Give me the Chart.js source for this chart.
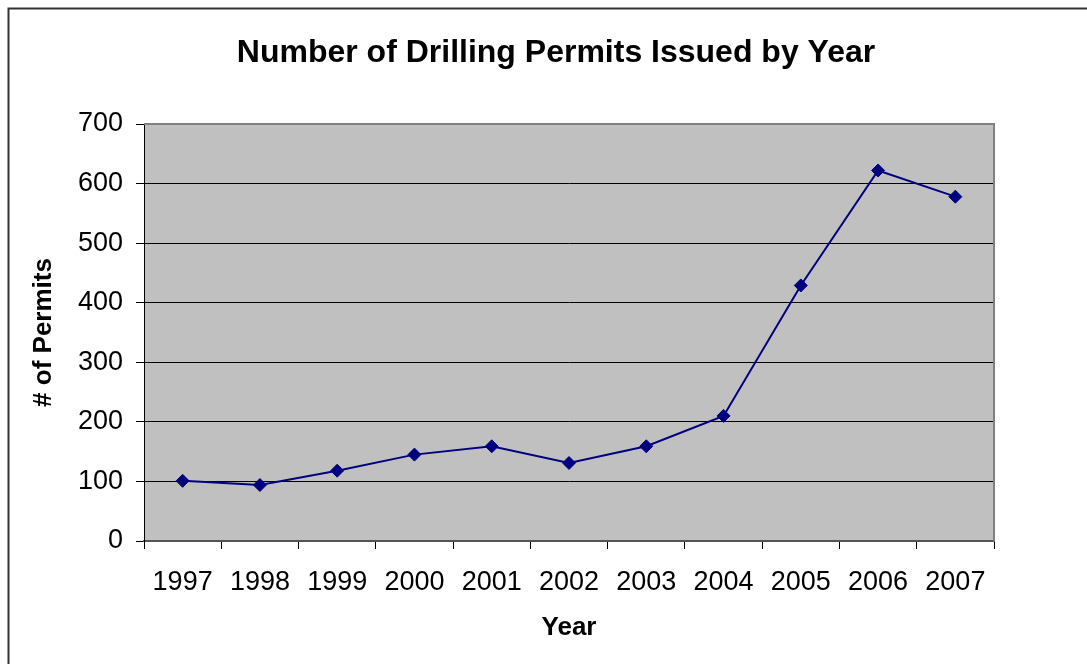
<!DOCTYPE html>
<html>
<head>
<meta charset="utf-8">
<script src="https://cdn.jsdelivr.net/npm/chart.js@4"></script>
<style>
  body { margin: 0; background: #fff; }
  #wrap { width: 1087px; height: 664px; }
</style>
</head>
<body>
<div id="wrap"><canvas id="permitChart" width="1087" height="664"></canvas></div>
<script>
const chartTitle = "Number of Drilling Permits Issued by Year";
const years = ["1997", "1998", "1999", "2000", "2001", "2002", "2003", "2004", "2005", "2006", "2007"];
const permits = [101, 94, 118, 145, 159, 131, 159, 210, 429, 622, 578];
const yTicks = [0, 100, 200, 300, 400, 500, 600, 700];

const fontFamily = "'Liberation Sans', Arial, sans-serif";

// gray plot background, outer frame and the title
const frame = {
  id: "frame",
  beforeDraw(chart) {
    const { ctx, chartArea: a } = chart;
    ctx.save();
    ctx.fillStyle = "#c0c0c0";
    ctx.fillRect(a.left, a.top, a.right - a.left, a.bottom - a.top);
    ctx.strokeStyle = "#333";
    ctx.lineWidth = 2;
    ctx.strokeRect(8.5, 8.5, 1200, 800);
    ctx.restore();
  },
  afterDraw(chart) {
    const { ctx, chartArea: a } = chart;
    ctx.save();
    ctx.strokeStyle = "#808080";
    ctx.lineWidth = 2;
    ctx.beginPath();
    ctx.moveTo(a.left, a.top);
    ctx.lineTo(a.right, a.top);
    ctx.lineTo(a.right, a.bottom);
    ctx.stroke();
    ctx.fillStyle = "#000";
    ctx.font = "bold 32px " + fontFamily;
    ctx.textAlign = "center";
    ctx.textBaseline = "middle";
    ctx.fillText(chartTitle, 556, 53);
    ctx.restore();
  }
};

const ctx = document.getElementById("permitChart").getContext("2d");
new Chart(ctx, {
  type: "line",
  data: {
    labels: years,
    datasets: [{
      label: "# of Permits",
      data: permits,
      borderColor: "#000080",
      backgroundColor: "#000080",
      borderWidth: 2,
      pointStyle: "rectRot",
      pointRadius: 6.5,
      pointBorderWidth: 1,
      tension: 0
    }]
  },
  options: {
    responsive: false,
    animation: false,
    layout: { padding: { top: 124, right: 93, left: 0, bottom: 0 } },
    plugins: {
      legend: { display: false },
      tooltip: { enabled: false },
      title: { display: false }
    },
    scales: {
      x: {
        offset: true,
        afterFit(s) { s.height = 123; },
        grid: { offset: true, drawOnChartArea: false, tickLength: 8, color: "#000" },
        border: { color: "#555", width: 2 },
        ticks: { color: "#000", padding: 17, font: { family: fontFamily, size: 27 } },
        title: {
          display: true, text: "Year", color: "#000",
          padding: { top: 0, bottom: 21 },
          font: { family: fontFamily, size: 26, weight: "bold" }
        }
      },
      y: {
        min: 0,
        max: 700,
        afterFit(s) { s.width = 144; },
        afterBuildTicks(s) { s.ticks = yTicks.map(v => ({ value: v })); },
        grid: { color: "#000", tickLength: 8, lineWidth: 1 },
        border: { color: "#000", width: 1 },
        ticks: { color: "#000", padding: 13, font: { family: fontFamily, size: 27 } },
        title: {
          display: true, text: "# of Permits", color: "#000",
          padding: { top: 28, bottom: 0 },
          font: { family: fontFamily, size: 26, weight: "bold" }
        }
      }
    }
  },
  plugins: [frame]
});
</script>
</body>
</html>
